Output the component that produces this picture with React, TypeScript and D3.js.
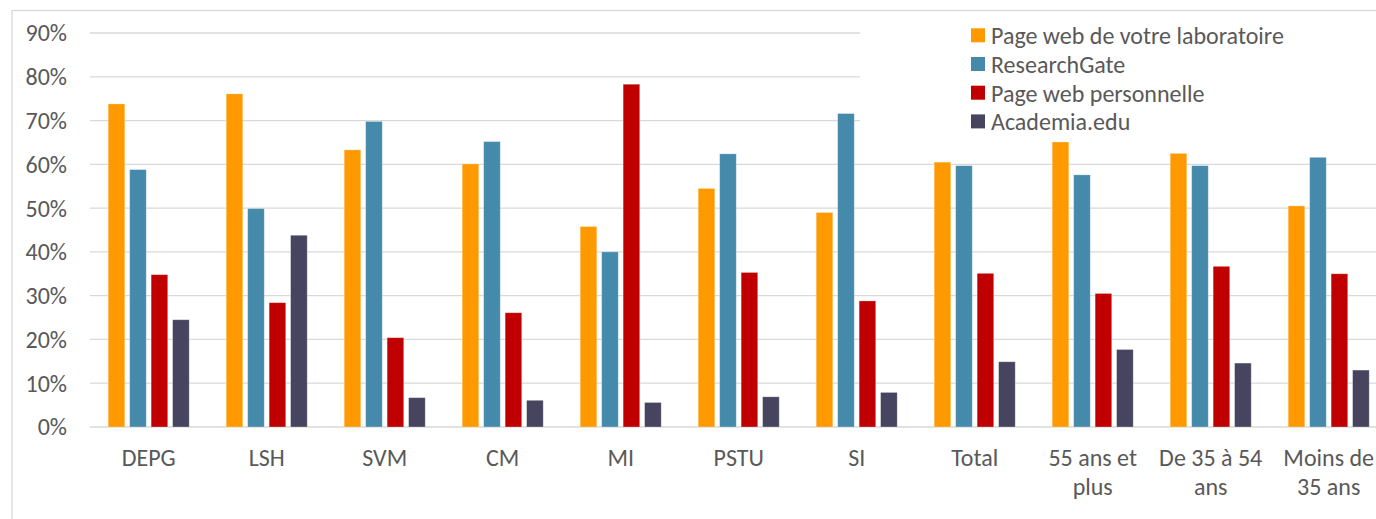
import React from "react";
import * as d3 from "d3";

const categories = ["DEPG", "LSH", "SVM", "CM", "MI", "PSTU", "SI", "Total", "55 ans et plus", "De 35 à 54 ans", "Moins de 35 ans"];
const seriesNames = ["Page web de votre laboratoire", "ResearchGate", "Page web personnelle", "Academia.edu"];
const labValues = [73.8, 76.1, 63.3, 60.1, 45.8, 54.5, 49.0, 60.5, 65.1, 62.5, 50.5];
const researchGateValues = [58.8, 49.9, 69.8, 65.2, 40.0, 62.4, 71.6, 59.7, 57.6, 59.7, 61.6];
const personalValues = [34.8, 28.4, 20.4, 26.1, 78.3, 35.3, 28.8, 35.1, 30.5, 36.7, 35.0];
const academiaValues = [24.5, 43.8, 6.7, 6.1, 5.6, 6.9, 7.9, 14.9, 17.7, 14.6, 13.0];
const yTicks = [0, 10, 20, 30, 40, 50, 60, 70, 80, 90];
const colors = ["#FF9900", "#468AAB", "#C00000", "#47445F"];

const seriesValues = [labValues, researchGateValues, personalValues, academiaValues];

const W = 1376;
const H = 519;
const FONT = "Carlito, Lato, 'Open Sans', sans-serif";
const FS = 24;
const TEXT = "#595959";

function wrap(label: string, maxW: number): string[] {
  const canvas = document.createElement("canvas");
  const ctx = canvas.getContext("2d")!;
  ctx.font = `${FS}px ${FONT}`;
  const words = label.split(" ");
  const lines: string[] = [];
  let cur = "";
  for (const w of words) {
    const t = cur ? cur + " " + w : w;
    if (cur && ctx.measureText(t).width > maxW) {
      lines.push(cur);
      cur = w;
    } else cur = t;
  }
  if (cur) lines.push(cur);
  return lines;
}

export default function App() {
  const step = 118;
  const x0 = d3.scaleBand<string>().domain(categories).range([89.7, 89.7 + step * categories.length]).padding(0);
  const x1 = d3.scaleBand<string>().domain(seriesNames).range([0, x0.bandwidth()]).paddingInner(0.227).paddingOuter(0.861);
  const y = d3.scaleLinear().domain([0, 90]).range([427, 33]);

  return (
    <svg width={W} height={H} style={{ position: "absolute", left: 0, top: 0, background: "#fff" }} fontFamily={FONT}>
      <rect x={12} y={10.5} width={W + 20} height={H + 20} fill="#fff" stroke="#D9D9D9" strokeWidth={1.3} />
      {yTicks.map((t) => (
        <g key={t}>
          <line x1={90} x2={W + 5} y1={y(t)} y2={y(t)} stroke="#D9D9D9" strokeWidth={1.3} />
          <text x={67} y={y(t)} dy="0.35em" textAnchor="end" fontSize={FS} fill={TEXT}>
            {t}%
          </text>
        </g>
      ))}
      {categories.map((c, ci) => (
        <g key={c} transform={`translate(${x0(c)},0)`}>
          {seriesNames.map((s, si) => {
            const v = seriesValues[si][ci];
            return (
              <rect
                key={s}
                x={x1(s)}
                y={y(v)}
                width={x1.bandwidth()}
                height={y(0) - y(v)}
                fill={colors[si]}
                stroke="#fff"
                strokeOpacity={0.35}
                strokeWidth={0.8}
              />
            );
          })}
          {wrap(c, 116).map((line, li) => (
            <text key={li} x={x0.bandwidth() / 2} y={466 + li * 28.7} textAnchor="middle" fontSize={FS} fill={TEXT}>
              {line}
            </text>
          ))}
        </g>
      ))}
      <rect x={860} y={14} width={W} height={126} fill="#fff" />
      {seriesNames.map((s, i) => (
        <g key={s} transform={`translate(971,${28.3 + i * 28.7})`}>
          <rect width={14} height={14} fill={colors[i]} />
          <text x={20} y={7} dy="0.37em" fontSize={FS} fill={TEXT}>
            {s}
          </text>
        </g>
      ))}
    </svg>
  );
}
